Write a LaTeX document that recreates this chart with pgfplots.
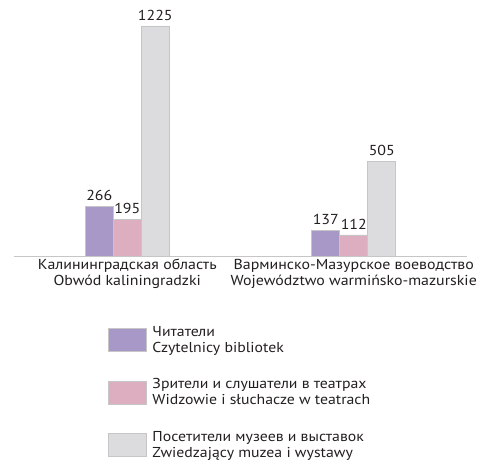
\documentclass[border=0pt]{standalone}
\usepackage{fontspec}
\setmainfont{PT Sans}[FakeStretch=1.1]
\usepackage{pgfplots}
\pgfplotsset{compat=1.18}
\definecolor{czyt}{HTML}{A898C8}
\definecolor{teatr}{HTML}{DDADC0}
\definecolor{muzea}{HTML}{DCDCDE}
\definecolor{edge}{HTML}{C6C6C8}
\definecolor{txt}{HTML}{231F20}

\begin{document}
\begin{tikzpicture}[x=1bp,y=1bp]
\path[use as bounding box] (0,0) rectangle (478,461);
\begin{axis}[
  at={(14bp,205bp)},anchor=south west,
  scale only axis,width=453bp,height=263bp,
  xmin=-0.5,xmax=1.5,ymin=0,ymax=1400,
  ybar=0pt,bar width=28bp,
  hide y axis,axis x line*=bottom,
  x axis line style={draw=edge,line width=0.8pt,-},
  xtick={0,1},major tick length=0pt,
  xticklabels={{Калининградская область\\Obwód kaliningradzki},{Варминско-Мазурское воеводство\\Województwo warmińsko-mazurskie}},
  xticklabel style={align=center,font=\fontsize{14.5}{16}\selectfont,text=txt,inner sep=3bp},
  nodes near coords,
  /pgf/number format/.cd,1000 sep={},assume math mode=true,/pgfplots/.cd,
  nodes near coords style={font=\fontsize{14.5}{16}\selectfont,text=txt,inner sep=1bp,yshift=4bp},
  every axis plot/.append style={draw=edge,line width=0.6pt},
  legend style={at={(0.2075,-0.259)},anchor=north west,draw=none,fill=none,
    inner sep=0pt,
    font=\fontsize{14.4}{16}\selectfont,text=txt,
    cells={align=left,anchor=west},row sep=21bp},
  legend image code/.code={\draw[#1,draw=edge] (0bp,-11.5bp) rectangle (38bp,11.5bp);
    \path[draw=none,fill=none] (0bp,-0.1bp) rectangle (42bp,0.1bp);},
  clip=false,
]
\addplot[fill=czyt] coordinates {(0,266) (1,137)};
\addlegendentry{Читатели\\Czytelnicy bibliotek}
\addplot[fill=teatr] coordinates {(0,195) (1,112)};
\addlegendentry{Зрители и слушатели в театрах\\Widzowie i słuchacze w teatrach}
\addplot[fill=muzea] coordinates {(0,1225) (1,505)};
\addlegendentry{Посетители музеев и выставок\\Zwiedzający muzea i wystawy}
\end{axis}
\end{tikzpicture}
\end{document}
